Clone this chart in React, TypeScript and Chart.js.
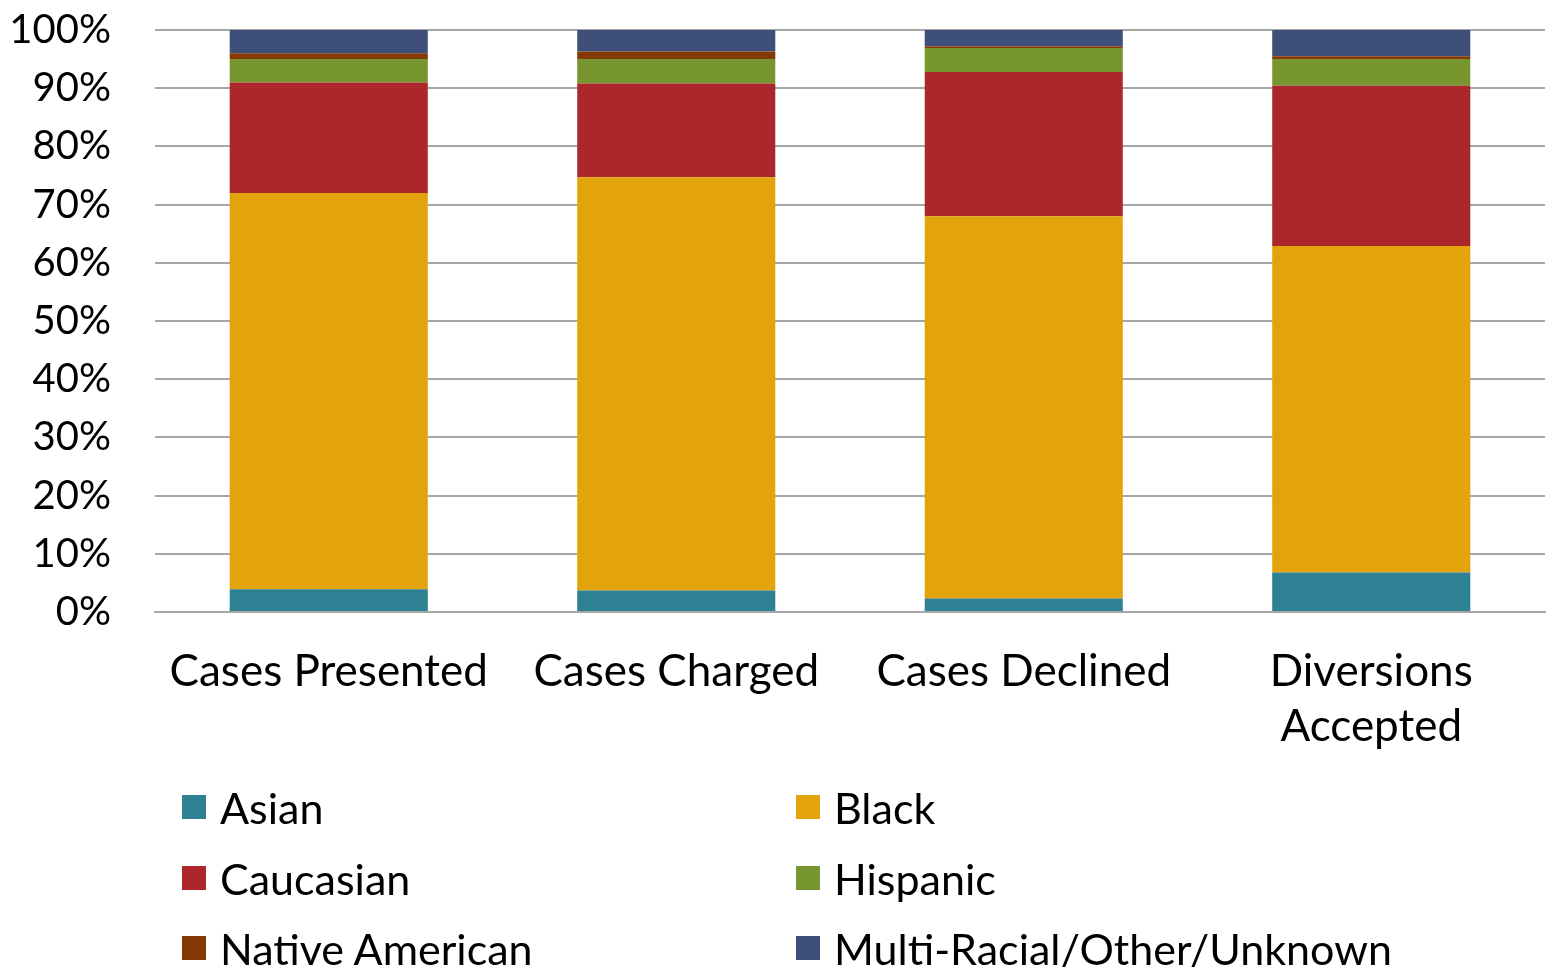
import React, { useEffect, useRef } from "react";
import { Chart, registerables } from "chart.js";

Chart.register(...registerables);

const categories: (string | string[])[] = [
  "Cases Presented",
  "Cases Charged",
  "Cases Declined",
  ["Diversions", "Accepted"],
];

const asian = [3.9, 3.7, 2.3, 6.8];
const black = [68.1, 71.0, 65.7, 56.1];
const caucasian = [19.0, 16.1, 24.8, 27.5];
const hispanic = [4.0, 4.2, 4.1, 4.6];
const nativeAmerican = [1.0, 1.3, 0.3, 0.5];
const multiRacial = [4.0, 3.7, 2.8, 4.5];

const seriesNames = [
  "Asian",
  "Black",
  "Caucasian",
  "Hispanic",
  "Native American",
  "Multi-Racial/Other/Unknown",
];
const seriesData = [asian, black, caucasian, hispanic, nativeAmerican, multiRacial];
const seriesColors = ["#2E8093", "#E2A40A", "#AC272B", "#77962F", "#843A06", "#3E5079"];

const FONT = "Lato, 'Open Sans', sans-serif";

export default function App() {
  const ref = useRef<HTMLCanvasElement | null>(null);

  useEffect(() => {
    document.body.style.margin = "0";
    const ctx = ref.current!;
    const chart = new Chart(ctx, {
      type: "bar",
      data: {
        labels: categories,
        datasets: seriesNames.map((name, i) => ({
          label: name,
          data: seriesData[i],
          backgroundColor: seriesColors[i],
          borderWidth: 0,
          barPercentage: 0.57,
          categoryPercentage: 1,
        })),
      },
      options: {
        responsive: false,
        animation: false,
        layout: { padding: { top: 30, right: 1, bottom: 187, left: 0 } },
        plugins: {
          legend: { display: false },
          tooltip: { enabled: false },
        },
        scales: {
          x: {
            stacked: true,
            grid: { display: false, drawTicks: false },
            border: { display: true, color: "#a6a6a6", width: 2 },
            ticks: {
              color: "#000",
              font: { family: FONT, size: 44, lineHeight: 1.25 },
              padding: 32,
              maxRotation: 0,
              autoSkip: false,
            },
            afterFit: (scale: any) => {
              scale.height = 168;
              scale.paddingLeft = 0;
              scale.paddingRight = 0;
            },
          },
          y: {
            stacked: true,
            min: 0,
            max: 100,
            grid: { color: "#a6a6a6", lineWidth: 2, drawTicks: false },
            border: { display: false },
            ticks: {
              stepSize: 10,
              color: "#000",
              font: { family: FONT, size: 40 },
              padding: 44,
              callback: (v: any) => v + "%",
            },
            afterFit: (scale: any) => {
              scale.width = 155;
              scale.paddingTop = 0;
              scale.paddingBottom = 0;
            },
          },
        },
      },
    });
    return () => chart.destroy();
  }, []);

  const legendPos = [
    { x: 182, y: 807 },
    { x: 796, y: 807 },
    { x: 182, y: 878 },
    { x: 796, y: 878 },
    { x: 182, y: 948 },
    { x: 796, y: 948 },
  ];

  return (
    <div style={{ position: "relative", width: 1546, height: 967, overflow: "hidden" }}>
      <canvas ref={ref} width={1546} height={967} style={{ display: "block" }} />
      {seriesNames.map((name, i) => (
        <div
          key={name}
          style={{
            position: "absolute",
            left: legendPos[i].x,
            top: legendPos[i].y - 30,
            height: 60,
            display: "flex",
            alignItems: "center",
            fontFamily: FONT,
            fontSize: 43,
            color: "#000",
            whiteSpace: "nowrap",
          }}
        >
          <span
            style={{
              display: "inline-block",
              width: 24,
              height: 24,
              background: seriesColors[i],
              marginRight: 14,
            }}
          />
          {name}
        </div>
      ))}
    </div>
  );
}
